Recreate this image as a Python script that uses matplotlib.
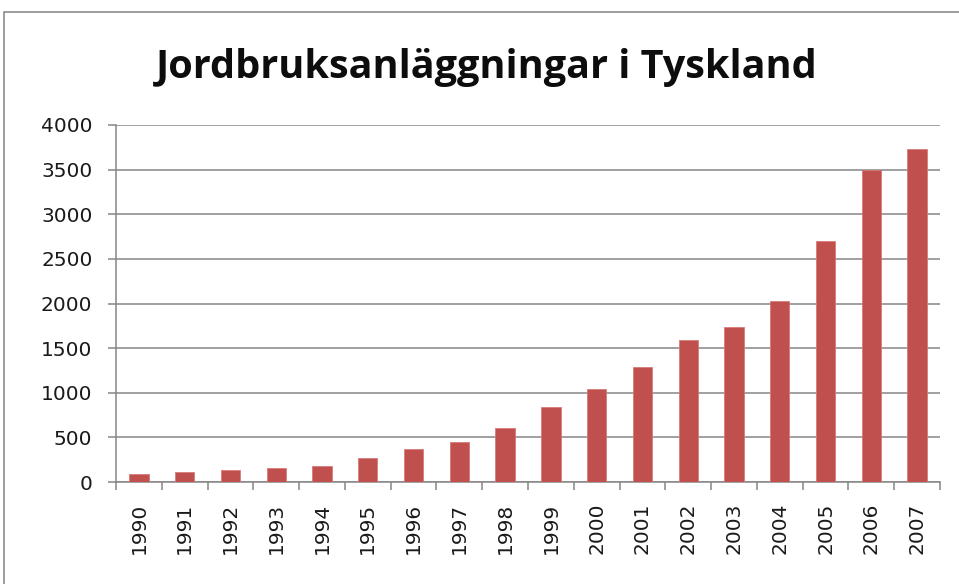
import matplotlib.pyplot as plt
from matplotlib.patches import Rectangle
import numpy as np

# --- Data ---
years = [str(y) for y in range(1990, 2008)]
values = [90, 108, 138, 152, 183, 272, 373, 448, 610, 842,
          1045, 1285, 1590, 1740, 2030, 2695, 3495, 3735]
title = "Jordbruksanläggningar i Tyskland"

BAR_COLOR = "#C0504D"
GRID_COLOR = "#868686"


def main():
    fig = plt.figure(figsize=(9.59, 5.84), dpi=100)
    ax = fig.add_axes([116 / 959, 1 - 482 / 584, (940 - 116) / 959, (482 - 125) / 584])

    # outer chart border (Excel style frame)
    fig.patches.append(Rectangle((4 / 959, -0.05), 1.1, 1 - 12 / 584 + 0.05,
                                 transform=fig.transFigure, fill=False,
                                 edgecolor="#8c8c8c", linewidth=1.2))

    x = np.arange(len(years))
    ax.bar(x, values, width=0.42, color=BAR_COLOR, edgecolor="#d97a77",
           linewidth=0.6, zorder=3)

    ax.set_xlim(-0.5, len(years) - 0.5)
    ax.set_ylim(0, 4000)
    ax.set_yticks(np.arange(0, 4001, 500))
    ax.grid(True, axis="y", color=GRID_COLOR, linewidth=1.1, zorder=0)

    # category labels centred, tick marks at category boundaries
    ax.set_xticks(x)
    ax.set_xticklabels(years, rotation=90)
    ax.set_xticks(np.arange(-0.5, len(years), 1.0), minor=True)
    ax.tick_params(axis="x", which="major", length=0, pad=15,
                   labelsize=14.5, labelcolor="#1a1a1a")
    ax.tick_params(axis="x", which="minor", length=6, width=1.1,
                   color=GRID_COLOR, direction="out")
    ax.tick_params(axis="y", length=6, width=1.1, color=GRID_COLOR,
                   pad=11, labelsize=14.5, labelcolor="#1a1a1a")

    for side in ("top", "right"):
        ax.spines[side].set_visible(False)
    for side in ("left", "bottom"):
        ax.spines[side].set_color(GRID_COLOR)
        ax.spines[side].set_linewidth(1.1)

    fig.text(487 / 959, 1 - 78 / 584, title, ha="center", va="baseline",
             fontsize=28.5, fontweight="bold", family="Open Sans", color="#0d0d0d")

    fig.savefig("out.png", dpi=100)


if __name__ == "__main__":
    main()
